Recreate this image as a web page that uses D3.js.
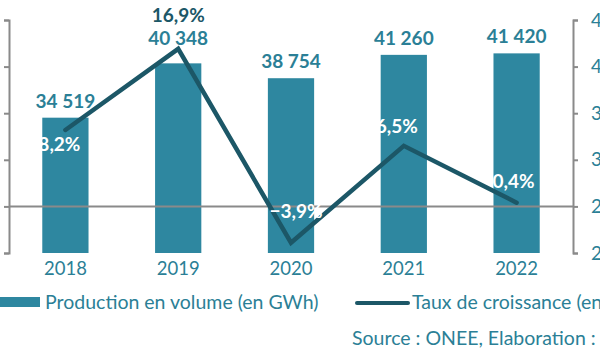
<!DOCTYPE html>
<html>
<head>
<meta charset="utf-8">
<script src="https://cdn.jsdelivr.net/npm/d3@7"></script>
<style>
  body { margin: 0; background: #fff; }
  svg { display: block; font-family: Lato, "Open Sans", sans-serif; }
</style>
</head>
<body>
<div id="chart"></div>
<script>
const years = ["2018", "2019", "2020", "2021", "2022"]
const production = [34519, 40348, 38754, 41260, 41420]
const growth = [8.2, 16.9, -3.9, 6.5, 0.4]
const productionTicks = [20000, 25000, 30000, 35000, 40000, 45000]
const growthTicks = [-5, 0, 5, 10, 15, 20]
const legendLabels = ["Production en volume (en GWh)", "Taux de croissance (en %)"]
const sourceText = "Source : ONEE, Elaboration : DEPF"

const width = 600
const height = 350
const barColor = "#2e87a0"
const lineColor = "#1c5767"
const textColor = "#2b7f96"
const axisColor = "#8a8a8a"

const svg = d3.select("#chart")
  .append("svg")
    .attr("width", width)
    .attr("height", height)

const x = d3.scaleBand()
  .domain(years)
  .range([9, 573])
  .paddingInner(0.59)
  .paddingOuter(0.295)

const yBar = d3.scaleLinear()
  .domain([20000, 45000])
  .range([253, 20])

const yRate = d3.scaleLinear()
  .domain([-5, 20])
  .range([253, 20])

const fmt = d => d3.format(",")(d).replace(/,/g, " ")
const pct = d => d3.format(".1f")(d).replace(".", ",") + "%"

// bars
svg.append("g")
  .selectAll("rect")
  .data(years)
  .join("rect")
    .attr("x", d => x(d))
    .attr("width", x.bandwidth())
    .attr("y", (d, i) => yBar(production[i]))
    .attr("height", (d, i) => yBar(20000) - yBar(production[i]))
    .attr("fill", barColor)

// zero line of growth axis
svg.append("line")
  .attr("x1", 9)
  .attr("x2", 573)
  .attr("y1", yRate(0))
  .attr("y2", yRate(0))
  .attr("stroke", axisColor)
  .attr("stroke-width", 2)

// axes (left labels fall outside the picture, so none are drawn)
const leftAxis = svg.append("g")
  .attr("transform", "translate(9,0)")
  .call(d3.axisLeft(yRate).tickValues(growthTicks).tickSize(5).tickFormat(""))

const rightAxis = svg.append("g")
  .attr("transform", "translate(573,0)")
  .call(d3.axisRight(yBar).tickValues(productionTicks).tickSize(5).tickPadding(13).tickFormat(fmt))

;[leftAxis, rightAxis].forEach(g => {
  g.selectAll("path, line").attr("stroke", axisColor).attr("stroke-width", 2)
  g.selectAll("text")
    .attr("fill", textColor)
    .style("font-size", "19px")
    .style("font-family", "Lato, sans-serif")
})

// year labels
svg.append("g")
  .selectAll("text")
  .data(years)
  .join("text")
    .attr("x", d => x(d) + x.bandwidth() / 2)
    .attr("y", 275)
    .attr("text-anchor", "middle")
    .attr("fill", textColor)
    .style("font-size", "18.5px")
    .text(d => d)

// growth line
const line = d3.line()
  .x((d, i) => x(years[i]) + x.bandwidth() / 2)
  .y(d => yRate(d))

svg.append("path")
  .datum(growth)
  .attr("fill", "none")
  .attr("stroke", lineColor)
  .attr("stroke-width", 4.5)
  .attr("stroke-linecap", "round")
  .attr("stroke-linejoin", "miter")
  .attr("d", line)

// value labels above bars
const barLabelLift = [10, 18, 10, 10, 10]
svg.append("g")
  .selectAll("text")
  .data(production)
  .join("text")
    .attr("x", (d, i) => x(years[i]) + x.bandwidth() / 2)
    .attr("y", (d, i) => yBar(d) - barLabelLift[i])
    .attr("text-anchor", "middle")
    .attr("fill", textColor)
    .style("font-size", "19px")
    .style("font-weight", "bold")
    .text(fmt)

// growth labels
const rateShift = [[-6, 21], [0, -26], [5, -25], [-7, -13], [-3, -15]]
svg.append("g")
  .selectAll("text")
  .data(growth)
  .join("text")
    .attr("x", (d, i) => x(years[i]) + x.bandwidth() / 2 + rateShift[i][0])
    .attr("y", (d, i) => (i === 1 ? yBar(production[1]) - 18 - 23 : yRate(d) + rateShift[i][1]))
    .attr("text-anchor", "middle")
    .attr("fill", (d, i) => i === 1 ? lineColor : "#fff")
    .style("font-size", "19px")
    .style("font-weight", "bold")
    .text(pct)

// legend
const legend = svg.append("g")
legend.append("rect")
  .attr("x", 0).attr("y", 297)
  .attr("width", 40).attr("height", 10)
  .attr("fill", barColor)
legend.append("text")
  .attr("x", 45).attr("y", 309)
  .attr("fill", textColor)
  .style("font-size", "19.5px")
  .text(legendLabels[0])
legend.append("line")
  .attr("x1", 357).attr("x2", 408)
  .attr("y1", 303).attr("y2", 303)
  .attr("stroke", lineColor)
  .attr("stroke-width", 4)
  .attr("stroke-linecap", "round")
legend.append("text")
  .attr("x", 412).attr("y", 309)
  .attr("fill", textColor)
  .style("font-size", "19.5px")
  .text(legendLabels[1])

svg.append("text")
  .attr("x", 352).attr("y", 345)
  .attr("fill", textColor)
  .style("font-size", "19.5px")
  .text(sourceText)
</script>
</body>
</html>
